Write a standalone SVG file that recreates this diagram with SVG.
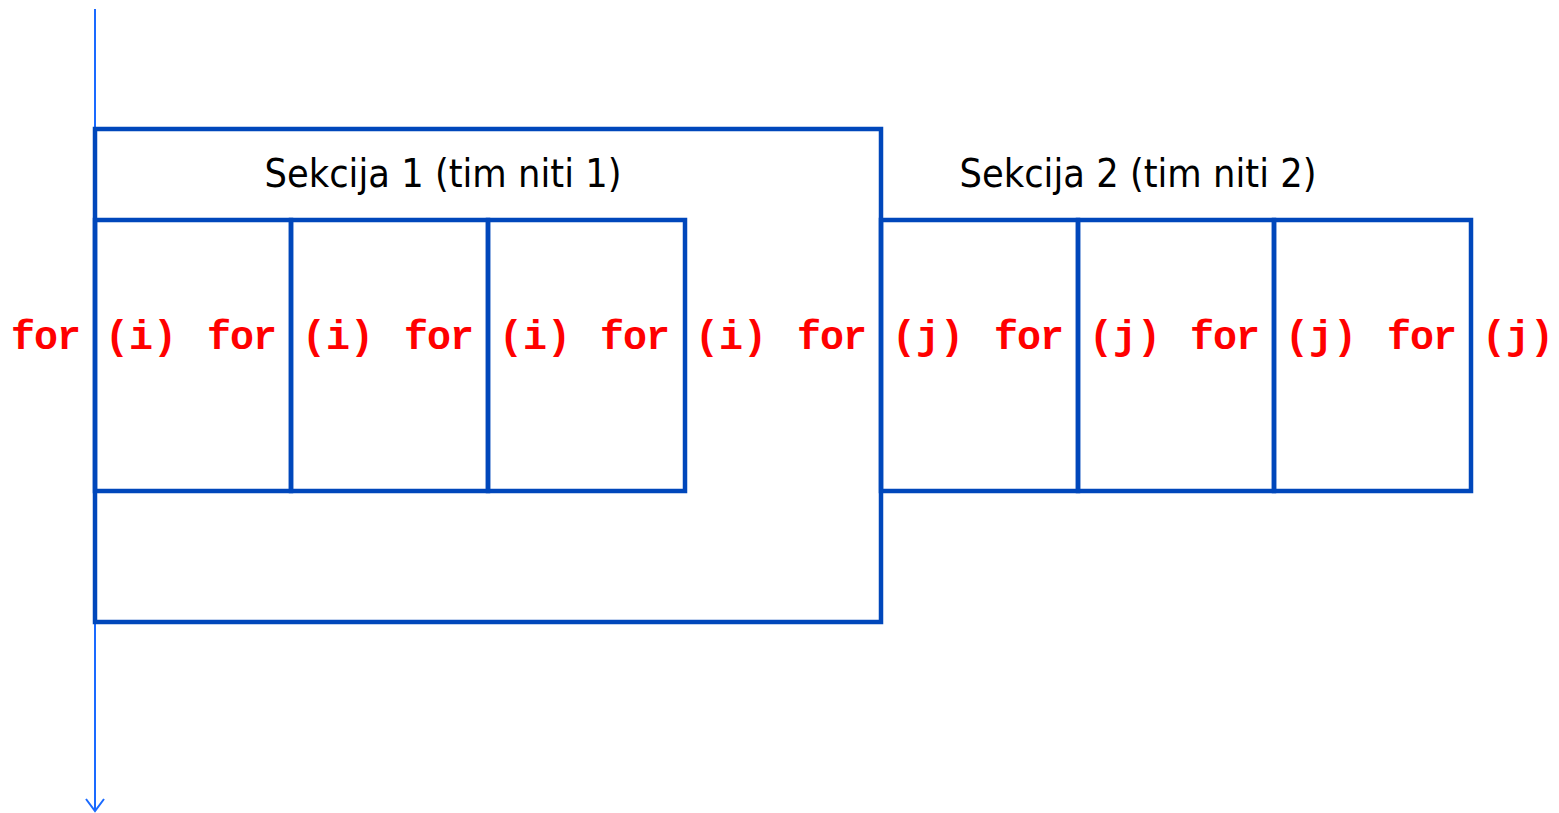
<svg xmlns="http://www.w3.org/2000/svg" width="1559" height="813" viewBox="0 0 1559 813">
  <defs>
    <style>
      .box { fill: none; stroke: #0047bb; stroke-width: 4.5; stroke-linecap: square; }
      .flow { fill: none; stroke: #1a6aff; stroke-width: 2; }
      .title { font-family: "DejaVu Sans", Verdana, sans-serif; font-size: 39px; fill: #000; text-anchor: middle; }
      .code { font-family: "Liberation Mono", "Courier New", monospace; font-weight: bold; font-size: 40px; fill: #ff0000; }
    </style>
  </defs>

  <!-- flow line with open arrowhead -->
  <g id="connectors">
    <line class="flow" x1="95" y1="9" x2="95" y2="811"/>
    <polyline class="flow" points="86,799 95,811 104,799"/>
  </g>

  <!-- section 1: outer frame and three loop chunks -->
  <g id="section1">
    <rect class="box" x="95" y="129" width="786" height="493"/>
    <text class="title" x="443" y="187" textLength="357" lengthAdjust="spacingAndGlyphs">Sekcija 1 (tim niti 1)</text>
  </g>
  <g id="chunk-i-1"><rect class="box" x="95" y="220" width="196" height="271"/></g>
  <g id="chunk-i-2"><rect class="box" x="291" y="220" width="197" height="271"/></g>
  <g id="chunk-i-3"><rect class="box" x="488" y="220" width="197" height="271"/></g>

  <!-- section 2: three loop chunks -->
  <g id="section2">
    <text class="title" x="1138" y="187" textLength="357" lengthAdjust="spacingAndGlyphs">Sekcija 2 (tim niti 2)</text>
  </g>
  <g id="chunk-j-1"><rect class="box" x="881" y="220" width="197" height="271"/></g>
  <g id="chunk-j-2"><rect class="box" x="1078" y="220" width="196" height="271"/></g>
  <g id="chunk-j-3"><rect class="box" x="1274" y="220" width="197" height="271"/></g>

  <!-- loop labels -->
  <g id="labels">
    <text class="code" x="11" y="349" textLength="70">for</text>
    <text class="code" x="105" y="349" textLength="72">(i)</text>
    <text class="code" x="207" y="349" textLength="70">for</text>
    <text class="code" x="302" y="349" textLength="72">(i)</text>
    <text class="code" x="404" y="349" textLength="70">for</text>
    <text class="code" x="499" y="349" textLength="72">(i)</text>
    <text class="code" x="600" y="349" textLength="70">for</text>
    <text class="code" x="695" y="349" textLength="72">(i)</text>
    <text class="code" x="797" y="349" textLength="70">for</text>
    <text class="code" x="892" y="349" textLength="72">(j)</text>
    <text class="code" x="994" y="349" textLength="70">for</text>
    <text class="code" x="1089" y="349" textLength="72">(j)</text>
    <text class="code" x="1190" y="349" textLength="70">for</text>
    <text class="code" x="1285" y="349" textLength="72">(j)</text>
    <text class="code" x="1387" y="349" textLength="70">for</text>
    <text class="code" x="1482" y="349" textLength="72">(j)</text>
  </g>
</svg>
